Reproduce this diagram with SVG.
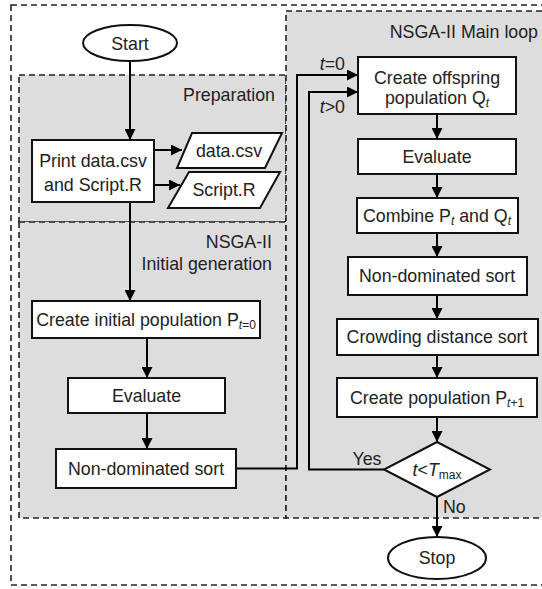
<svg xmlns="http://www.w3.org/2000/svg" width="542" height="589" viewBox="0 0 542 589">
<defs>
<marker id="arr" viewBox="0 0 10 10" refX="10" refY="5" markerWidth="5.5" markerHeight="5.5" markerUnits="strokeWidth" orient="auto">
<path d="M0,0 L10,5 L0,10 z" fill="#000"/>
</marker>
<style>
.reg{fill:#ddd;stroke:#222;stroke-width:1.6;stroke-dasharray:6 4}
.outer{fill:#fff;stroke:#222;stroke-width:1.6;stroke-dasharray:6 4}
.box{fill:#fff;stroke:#111;stroke-width:2}
.t{font-family:"Liberation Sans",Arial,sans-serif;font-size:17.8px;fill:#222}
.c{text-anchor:middle}
.r{text-anchor:end}
.sub{font-size:12px}
.it{font-style:italic}
.ln{fill:none;stroke:#000;stroke-width:2}
</style>
</defs>
<g id="regions">
<rect class="outer" x="11" y="5" width="533" height="580"/>
<rect class="reg" x="19" y="75" width="267" height="147"/>
<rect class="reg" x="19" y="222" width="267" height="296"/>
<rect class="reg" x="286" y="11" width="258" height="507"/>
<text class="t r" x="275" y="100.5">Preparation</text>
<text class="t r" x="272" y="247.5">NSGA-II</text>
<text class="t r" x="272" y="269.5">Initial generation</text>
<text class="t r" x="538" y="37.5">NSGA-II Main loop</text>
</g>
<g id="connectors">
<path class="ln" d="M130,61 V140" marker-end="url(#arr)"/>
<path class="ln" d="M154,150 H182" marker-end="url(#arr)"/>
<path class="ln" d="M154,185 H180" marker-end="url(#arr)"/>
<path class="ln" d="M130,202 V301" marker-end="url(#arr)"/>
<path class="ln" d="M147,338 V378" marker-end="url(#arr)"/>
<path class="ln" d="M147,413 V449" marker-end="url(#arr)"/>
<path class="ln" d="M236,468.5 H297 V75 H358" marker-end="url(#arr)"/>
<path class="ln" d="M384,469.5 H309 V92 H358" marker-end="url(#arr)"/>
<path class="ln" d="M437,114 V139" marker-end="url(#arr)"/>
<path class="ln" d="M437,174 V198" marker-end="url(#arr)"/>
<path class="ln" d="M437,233 V257" marker-end="url(#arr)"/>
<path class="ln" d="M437,295 V319" marker-end="url(#arr)"/>
<path class="ln" d="M437,355 V378" marker-end="url(#arr)"/>
<path class="ln" d="M437,417 V442" marker-end="url(#arr)"/>
<path class="ln" d="M437,497 V537" marker-end="url(#arr)"/>
<text class="t r" x="345" y="70"><tspan class="it">t</tspan>=0</text>
<text class="t r" x="345" y="113"><tspan class="it">t</tspan>&gt;0</text>
<text class="t c" x="367" y="465">Yes</text>
<text class="t" x="443" y="513">No</text>
</g>
<g id="start">
<ellipse class="box" cx="130" cy="43" rx="47" ry="18"/>
<text class="t c" x="130" y="49.5">Start</text>
</g>
<g id="print">
<rect class="box" x="32" y="140" width="122" height="62"/>
<text class="t c" x="93" y="167">Print data.csv</text>
<text class="t c" x="93" y="191">and Script.R</text>
</g>
<g id="datacsv">
<path class="box" d="M192,133 H282 L265,168 H177 Z"/>
<text class="t c" x="229" y="157">data.csv</text>
</g>
<g id="scriptr">
<path class="box" d="M189,172 H280 L260,208 H168 Z"/>
<text class="t c" x="224" y="196">Script.R</text>
</g>
<g id="init">
<rect class="box" x="32" y="301" width="228" height="37"/>
<text class="t c" x="146" y="326">Create initial population P<tspan class="sub it" dy="3">t</tspan><tspan class="sub" dy="0">=0</tspan></text>
</g>
<g id="eval1">
<rect class="box" x="68" y="378" width="157" height="35"/>
<text class="t c" x="146.5" y="402">Evaluate</text>
</g>
<g id="nds1">
<rect class="box" x="56" y="449" width="180" height="39"/>
<text class="t c" x="146" y="475">Non-dominated sort</text>
</g>
<g id="offspring">
<rect class="box" x="358" y="57" width="158" height="57"/>
<text class="t c" x="437" y="84">Create offspring</text>
<text class="t c" x="437" y="104">population Q<tspan class="sub it" dy="3">t</tspan></text>
</g>
<g id="eval2">
<rect class="box" x="358" y="139" width="158" height="35"/>
<text class="t c" x="437" y="163">Evaluate</text>
</g>
<g id="combine">
<rect class="box" x="357" y="198" width="161" height="35"/>
<text class="t c" x="437" y="222">Combine P<tspan class="sub it" dy="3">t</tspan><tspan dy="-3"> and Q</tspan><tspan class="sub it" dy="3">t</tspan></text>
</g>
<g id="nds2">
<rect class="box" x="348" y="257" width="179" height="38"/>
<text class="t c" x="437" y="282">Non-dominated sort</text>
</g>
<g id="crowding">
<rect class="box" x="337" y="319" width="201" height="36"/>
<text class="t c" x="437" y="343">Crowding distance sort</text>
</g>
<g id="createpop">
<rect class="box" x="337" y="378" width="200" height="39"/>
<text class="t c" x="437" y="404">Create population P<tspan class="sub it" dy="3">t</tspan><tspan class="sub">+1</tspan></text>
</g>
<g id="decision">
<path class="box" d="M437,442 L490,469.5 L437,497 L384,469.5 Z"/>
<text class="t c" x="437" y="476"><tspan class="it">t</tspan>&lt;<tspan class="it">T</tspan><tspan class="sub" dy="3">max</tspan></text>
</g>
<g id="stop">
<ellipse class="box" cx="437" cy="558" rx="49" ry="21"/>
<text class="t c" x="437" y="564">Stop</text>
</g>
</svg>
